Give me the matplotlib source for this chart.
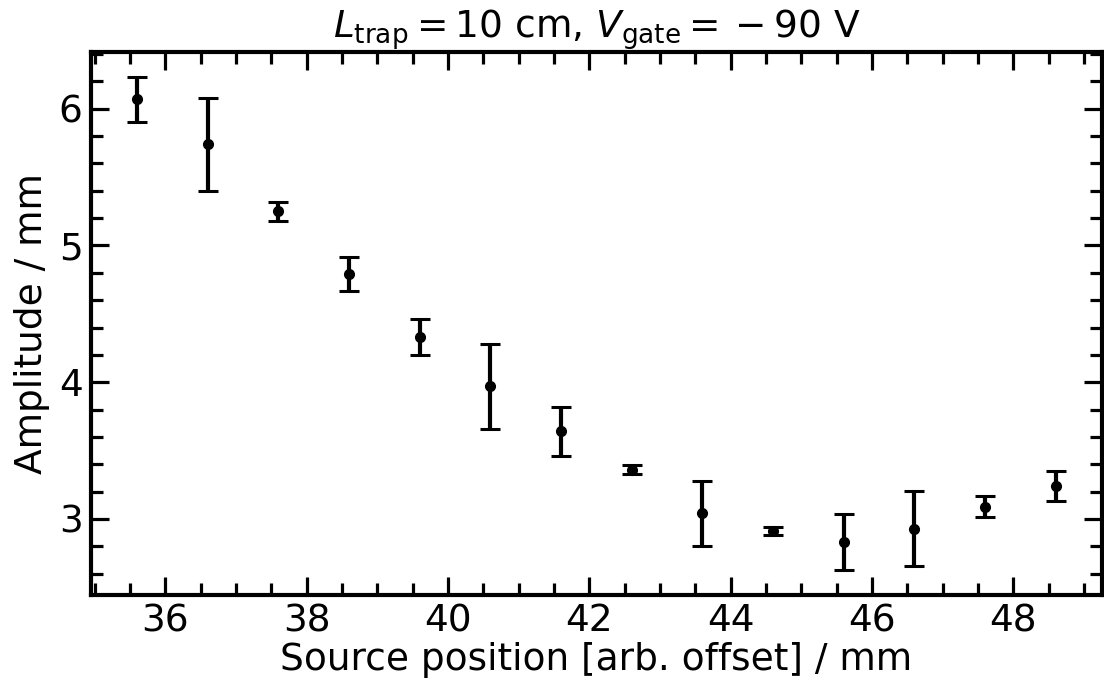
import numpy as np
import matplotlib
matplotlib.use("Agg")
import matplotlib.pyplot as plt

# source positions and fitted amplitudes
position = [35.6, 36.6, 37.6, 38.6, 39.6, 40.6, 41.6, 42.6, 43.6, 44.6, 45.6, 46.6, 47.6, 48.6]
amplitude = [6.07, 5.74, 5.25, 4.79, 4.33, 3.97, 3.64, 3.36, 3.04, 2.91, 2.83, 2.93, 3.09, 3.24]
amp_err = [0.165, 0.34, 0.07, 0.125, 0.13, 0.31, 0.18, 0.035, 0.24, 0.03, 0.205, 0.275, 0.075, 0.11]

plt.rcParams["font.size"] = 27

fig = plt.figure(figsize=(11.04, 6.83), dpi=100)
ax = fig.add_axes([0.0824, 0.129, 0.9156, 0.795])

ax.errorbar(position, amplitude, yerr=amp_err, fmt="o", color="black",
            markersize=7, elinewidth=3, capsize=7.5, capthick=2.2)

ax.set_xlabel("Source position [arb. offset] / mm", labelpad=2)
ax.set_ylabel("Amplitude / mm", labelpad=6)
ax.set_title(r"$L_\mathrm{trap} = 10$ cm, $V_\mathrm{gate} = {} - 90$ V", fontsize=27, pad=4)

ax.set_xticks([36, 38, 40, 42, 44, 46, 48])
ax.set_yticks([3, 4, 5, 6])
ax.minorticks_on()
ax.xaxis.set_minor_locator(matplotlib.ticker.MultipleLocator(0.5))
ax.yaxis.set_minor_locator(matplotlib.ticker.MultipleLocator(0.2))
ax.tick_params(which="both", direction="in", top=True, right=True, width=2.3)
ax.tick_params(which="major", length=13, labelsize=27, pad=6)
ax.tick_params(which="minor", length=8.5)
for s in ax.spines.values():
    s.set_linewidth(3)

fig.savefig("out.png", dpi=100)
